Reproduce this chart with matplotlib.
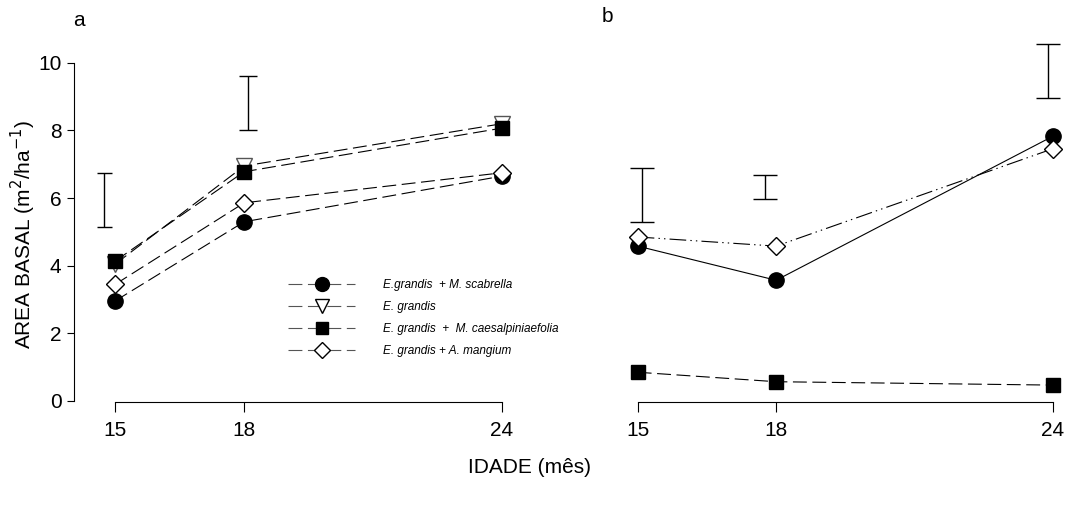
import matplotlib
matplotlib.use("Agg")
import matplotlib.pyplot as plt
from matplotlib.lines import Line2D

plt.rcParams['font.family'] = ['Liberation Sans', 'DejaVu Sans']
plt.rcParams['lines.scale_dashes'] = False

# idade (meses)
idade = [15, 18, 24]
ticks_x = [15, 18, 24]
ticks_y = [0, 2, 4, 6, 8, 10]

# painel a
a_scabrella = [2.96, 5.30, 6.65]
a_grandis = [4.05, 6.95, 8.20]
a_caesalp = [4.14, 6.78, 8.07]
a_mangium = [3.45, 5.86, 6.75]

# painel b
b_scabrella = [4.58, 3.57, 7.83]
b_caesalp = [0.85, 0.57, 0.47]
b_mangium = [4.85, 4.58, 7.46]

# barras de DMS: posicao x, centro, meia altura, capsize
dms_a_x = [14.75, 18.1]
dms_a_c = [5.95, 8.80]
dms_a_h = [0.80, 0.80]
dms_a_cap = [5.4, 6.5]

dms_b_x = [15.1, 17.75, 23.9]
dms_b_c = [6.10, 6.33, 9.75]
dms_b_h = [0.80, 0.35, 0.80]
dms_b_cap = [8.6, 8.6, 8.6]

nomes = ["E.grandis  + M. scabrella", "E. grandis",
         "E. grandis  +  M. caesalpiniaefolia", "E. grandis + A. mangium"]

fig = plt.figure(figsize=(10.69, 5.11), dpi=100)
ax1 = fig.add_axes([0.0692, 0.2133, 0.4125, 0.7299])
ax2 = fig.add_axes([0.5551, 0.2133, 0.4428, 0.7299])

dash = (0, (10, 4))
ms = 11
fs = 15

ax1.plot(idade, a_scabrella, color='black', lw=0.8, ls=dash, marker='o',
         ms=ms, mfc='black', mec='black')
ax1.plot(idade, a_grandis, color='black', lw=0.8, ls=dash, marker='v',
         ms=ms, mfc='white', mec='#555555')
ax1.plot(idade, a_caesalp, color='black', lw=0.8, ls=dash, marker='s',
         ms=10, mfc='black', mec='black')
ax1.plot(idade, a_mangium, color='black', lw=0.8, ls=dash, marker='D',
         ms=9, mfc='white', mec='black')

for x, c, h, cap in zip(dms_a_x, dms_a_c, dms_a_h, dms_a_cap):
    ax1.errorbar([x], [c], yerr=[h], fmt='none', ecolor='black',
                 elinewidth=1, capsize=cap, capthick=1)

ax2.plot(idade, b_scabrella, color='black', lw=0.8, ls='-', marker='o',
         ms=ms, mfc='black', mec='black')
ax2.plot(idade, b_caesalp, color='black', lw=0.8, ls=dash, marker='s',
         ms=10, mfc='black', mec='black')
ax2.plot(idade, b_mangium, color='black', lw=0.8,
         ls=(0, (12, 3, 1, 3, 1, 3)), marker='D', ms=9, mfc='white',
         mec='black')

for x, c, h, cap in zip(dms_b_x, dms_b_c, dms_b_h, dms_b_cap):
    ax2.errorbar([x], [c], yerr=[h], fmt='none', ecolor='black',
                 elinewidth=1, capsize=cap, capthick=1)

for ax in (ax1, ax2):
    ax.set_xlim(14.04, 24.3)
    ax.set_ylim(-0.03, 11)
    ax.set_xticks(ticks_x)
    ax.set_xticklabels([str(t) for t in ticks_x], fontsize=fs)
    ax.spines['top'].set_visible(False)
    ax.spines['right'].set_visible(False)
    ax.spines['bottom'].set_bounds(15, 24)
    ax.tick_params(axis='x', direction='out', length=7, width=0.8, pad=7)
    ax.patch.set_visible(False)

ax1.spines['left'].set_bounds(0, 10)
ax1.set_yticks(ticks_y)
ax1.set_yticklabels([str(t) for t in ticks_y], fontsize=fs)
ax1.tick_params(axis='y', direction='out', length=5, width=0.8, pad=4)
ax1.set_ylabel('AREA BASAL (m$^2$/ha$^{-1}$)', fontsize=fs)
ax1.yaxis.set_label_coords(-0.082, 0.449)

ax2.spines['left'].set_visible(False)
ax2.set_yticks([])

fig.text(79 / 1069, 1 - 20 / 511, 'a', fontsize=fs, ha='center', va='center')
fig.text(607 / 1069, 1 - 17 / 511, 'b', fontsize=fs, ha='center', va='center')
fig.text(530 / 1069, 1 - 467 / 511, 'IDADE (mês)', fontsize=fs,
         ha='center', va='center')

handles = [
    Line2D([], [], color='#555555', lw=0.8, ls=dash, marker='o', ms=10,
           mfc='black', mec='black'),
    Line2D([], [], color='#555555', lw=0.8, ls=dash, marker='v', ms=10,
           mfc='white', mec='black'),
    Line2D([], [], color='#555555', lw=0.8, ls=dash, marker='s', ms=9,
           mfc='black', mec='black'),
    Line2D([], [], color='#555555', lw=0.8, ls=dash, marker='D', ms=8,
           mfc='white', mec='black'),
]
leg = ax1.legend(handles, nomes, loc='upper left',
                 bbox_to_anchor=(288 / 1069, 1 - 279 / 511),
                 bbox_transform=fig.transFigure, frameon=False,
                 prop={'style': 'italic', 'size': 8.5}, handlelength=5.7,
                 handletextpad=2.35, labelspacing=0.85, borderpad=0,
                 borderaxespad=0)

fig.savefig('out.png', dpi=100)
